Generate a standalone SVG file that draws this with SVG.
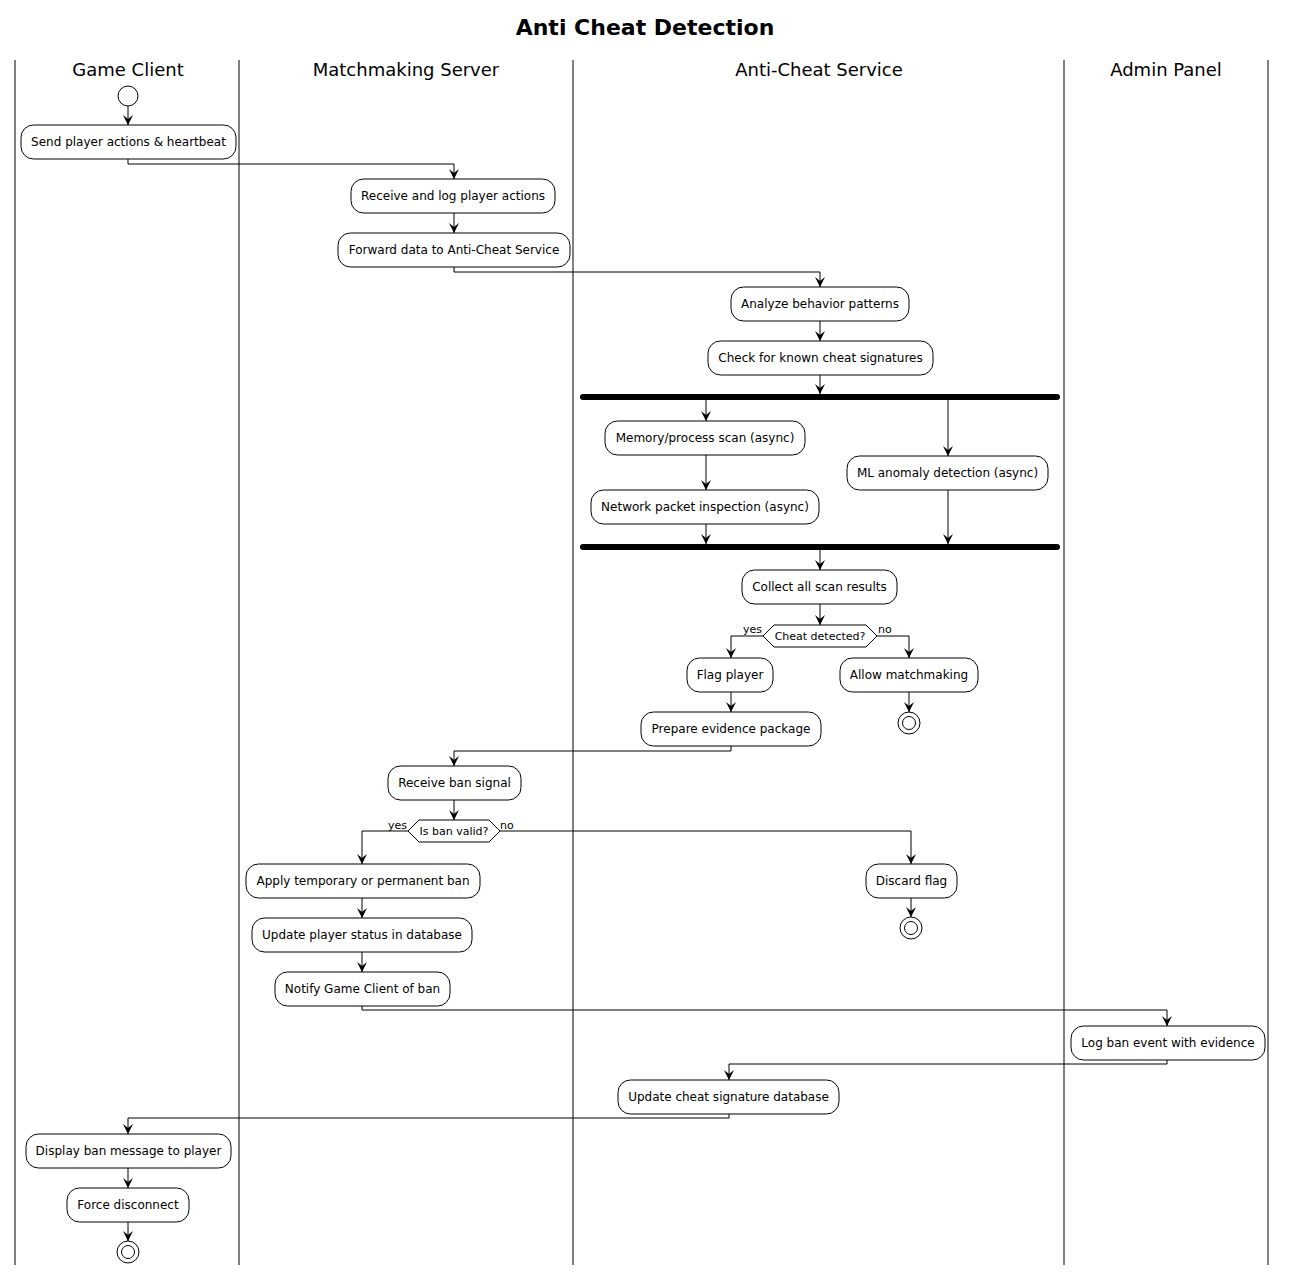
<svg xmlns="http://www.w3.org/2000/svg" width="1291" height="1278" viewBox="0 0 1291 1278">
<style>
.bg{fill:#ffffff}
.lane{stroke:#000;stroke-width:1;fill:none}
.title{font-family:"DejaVu Sans",sans-serif;font-size:22px;font-weight:bold;fill:#000}
.lt{font-family:"DejaVu Sans",sans-serif;font-size:18px;fill:#000}
.box{fill:#fff;stroke:#000;stroke-width:1}
.t{font-family:"DejaVu Sans",sans-serif;font-size:12px;fill:#000}
.dt{font-family:"DejaVu Sans",sans-serif;font-size:11px;fill:#000}
.lbl{font-family:"DejaVu Sans",sans-serif;font-size:11px;fill:#000}
.c{fill:none;stroke:#000;stroke-width:1}
.bar{fill:#000}
.st{fill:#fff;stroke:#000;stroke-width:1}
</style>
<defs>
<marker id="ah" viewBox="0 0 10 10" refX="10" refY="5" markerWidth="10" markerHeight="10" markerUnits="userSpaceOnUse" orient="auto">
<path d="M0,0 L10,5 L0,10 L4,5 Z" fill="#000"/>
</marker>
</defs>
<rect class="bg" x="0" y="0" width="1291" height="1278"/>
<text class="title" x="645" y="35" text-anchor="middle">Anti Cheat Detection</text>
<g id="lanes">
<line class="lane" x1="15" y1="60" x2="15" y2="1265"/>
<line class="lane" x1="239" y1="60" x2="239" y2="1265"/>
<line class="lane" x1="573" y1="60" x2="573" y2="1265"/>
<line class="lane" x1="1064" y1="60" x2="1064" y2="1265"/>
<line class="lane" x1="1268" y1="60" x2="1268" y2="1265"/>
<text class="lt" x="128" y="76" text-anchor="middle">Game Client</text>
<text class="lt" x="406" y="76" text-anchor="middle">Matchmaking Server</text>
<text class="lt" x="819" y="76" text-anchor="middle">Anti-Cheat Service</text>
<text class="lt" x="1166" y="76" text-anchor="middle">Admin Panel</text>
</g>
<g id="connectors">
<path class="c" d="M128,106 L128,125" marker-end="url(#ah)"/>
<path class="c" d="M128,159 L128,164 L454,164 L454,179" marker-end="url(#ah)"/>
<path class="c" d="M454,213 L454,233" marker-end="url(#ah)"/>
<path class="c" d="M454,267 L454,272 L820,272 L820,287" marker-end="url(#ah)"/>
<path class="c" d="M820,321 L820,341" marker-end="url(#ah)"/>
<path class="c" d="M820,375 L820,394" marker-end="url(#ah)"/>
<path class="c" d="M706,400 L706,421" marker-end="url(#ah)"/>
<path class="c" d="M948,400 L948,456" marker-end="url(#ah)"/>
<path class="c" d="M706,455 L706,490" marker-end="url(#ah)"/>
<path class="c" d="M706,524 L706,544" marker-end="url(#ah)"/>
<path class="c" d="M948,490 L948,544" marker-end="url(#ah)"/>
<path class="c" d="M820,550 L820,570" marker-end="url(#ah)"/>
<path class="c" d="M820,604 L820,625" marker-end="url(#ah)"/>
<path class="c" d="M763,636 L731,636 L731,658" marker-end="url(#ah)"/>
<path class="c" d="M877,636 L909,636 L909,658" marker-end="url(#ah)"/>
<path class="c" d="M909,692 L909,712" marker-end="url(#ah)"/>
<path class="c" d="M731,692 L731,712" marker-end="url(#ah)"/>
<path class="c" d="M731,746 L731,751 L454,751 L454,766" marker-end="url(#ah)"/>
<path class="c" d="M454,800 L454,820" marker-end="url(#ah)"/>
<path class="c" d="M408,831 L362,831 L362,864" marker-end="url(#ah)"/>
<path class="c" d="M500,831 L911,831 L911,864" marker-end="url(#ah)"/>
<path class="c" d="M911,898 L911,917" marker-end="url(#ah)"/>
<path class="c" d="M362,898 L362,918" marker-end="url(#ah)"/>
<path class="c" d="M362,952 L362,972" marker-end="url(#ah)"/>
<path class="c" d="M362,1006 L362,1010 L1167,1010 L1167,1026" marker-end="url(#ah)"/>
<path class="c" d="M1167,1060 L1167,1064 L729,1064 L729,1080" marker-end="url(#ah)"/>
<path class="c" d="M729,1114 L729,1118 L128,1118 L128,1134" marker-end="url(#ah)"/>
<path class="c" d="M128,1168 L128,1188" marker-end="url(#ah)"/>
<path class="c" d="M128,1222 L128,1241" marker-end="url(#ah)"/>
<text class="lbl" x="743" y="633">yes</text>
<text class="lbl" x="878" y="633">no</text>
<text class="lbl" x="388" y="829">yes</text>
<text class="lbl" x="500" y="829">no</text>
</g>
<g id="start"><circle class="st" cx="128" cy="96" r="10"/></g>
<g id="n1"><rect class="box" x="21" y="125" width="215" height="34" rx="12.5"/><text class="t" x="128.5" y="146" text-anchor="middle">Send player actions &amp; heartbeat</text></g>
<g id="n2"><rect class="box" x="351" y="179" width="204" height="34" rx="12.5"/><text class="t" x="453" y="200" text-anchor="middle">Receive and log player actions</text></g>
<g id="n3"><rect class="box" x="338" y="233" width="232" height="34" rx="12.5"/><text class="t" x="454" y="254" text-anchor="middle">Forward data to Anti-Cheat Service</text></g>
<g id="n4"><rect class="box" x="731" y="287" width="178" height="34" rx="12.5"/><text class="t" x="820" y="308" text-anchor="middle">Analyze behavior patterns</text></g>
<g id="n5"><rect class="box" x="708" y="341" width="225" height="34" rx="12.5"/><text class="t" x="820.5" y="362" text-anchor="middle">Check for known cheat signatures</text></g>
<g id="fork"><rect class="bar" x="580" y="394" width="480" height="6" rx="3"/></g>
<g id="n6"><rect class="box" x="605" y="421" width="200" height="34" rx="12.5"/><text class="t" x="705" y="442" text-anchor="middle">Memory/process scan (async)</text></g>
<g id="n7"><rect class="box" x="847" y="456" width="201" height="34" rx="12.5"/><text class="t" x="947.5" y="477" text-anchor="middle">ML anomaly detection (async)</text></g>
<g id="n8"><rect class="box" x="591" y="490" width="228" height="34" rx="12.5"/><text class="t" x="705" y="511" text-anchor="middle">Network packet inspection (async)</text></g>
<g id="join"><rect class="bar" x="580" y="544" width="480" height="6" rx="3"/></g>
<g id="n9"><rect class="box" x="742" y="570" width="155" height="34" rx="12.5"/><text class="t" x="819.5" y="591" text-anchor="middle">Collect all scan results</text></g>
<g id="d1"><polygon class="box" points="763,636 774,625 866,625 877,636 866,647 774,647"/><text class="dt" x="820" y="640" text-anchor="middle">Cheat detected?</text></g>
<g id="n10"><rect class="box" x="687" y="658" width="86" height="34" rx="12.5"/><text class="t" x="730" y="679" text-anchor="middle">Flag player</text></g>
<g id="n11"><rect class="box" x="840" y="658" width="138" height="34" rx="12.5"/><text class="t" x="909" y="679" text-anchor="middle">Allow matchmaking</text></g>
<g id="end1"><circle class="st" cx="909" cy="723" r="11"/><circle class="st" cx="909" cy="723" r="6.5"/></g>
<g id="n12"><rect class="box" x="641" y="712" width="180" height="34" rx="12.5"/><text class="t" x="731" y="733" text-anchor="middle">Prepare evidence package</text></g>
<g id="n13"><rect class="box" x="388" y="766" width="133" height="34" rx="12.5"/><text class="t" x="454.5" y="787" text-anchor="middle">Receive ban signal</text></g>
<g id="d2"><polygon class="box" points="408,831 419,820 489,820 500,831 489,842 419,842"/><text class="dt" x="454" y="835" text-anchor="middle">Is ban valid?</text></g>
<g id="n14"><rect class="box" x="246" y="864" width="234" height="34" rx="12.5"/><text class="t" x="363" y="885" text-anchor="middle">Apply temporary or permanent ban</text></g>
<g id="n15"><rect class="box" x="866" y="864" width="91" height="34" rx="12.5"/><text class="t" x="911.5" y="885" text-anchor="middle">Discard flag</text></g>
<g id="end2"><circle class="st" cx="911" cy="928" r="11"/><circle class="st" cx="911" cy="928" r="6.5"/></g>
<g id="n16"><rect class="box" x="252" y="918" width="220" height="34" rx="12.5"/><text class="t" x="362" y="939" text-anchor="middle">Update player status in database</text></g>
<g id="n17"><rect class="box" x="275" y="972" width="175" height="34" rx="12.5"/><text class="t" x="362.5" y="993" text-anchor="middle">Notify Game Client of ban</text></g>
<g id="n18"><rect class="box" x="1071" y="1026" width="194" height="34" rx="12.5"/><text class="t" x="1168" y="1047" text-anchor="middle">Log ban event with evidence</text></g>
<g id="n19"><rect class="box" x="618" y="1080" width="221" height="34" rx="12.5"/><text class="t" x="728.5" y="1101" text-anchor="middle">Update cheat signature database</text></g>
<g id="n20"><rect class="box" x="26" y="1134" width="205" height="34" rx="12.5"/><text class="t" x="128.5" y="1155" text-anchor="middle">Display ban message to player</text></g>
<g id="n21"><rect class="box" x="67" y="1188" width="122" height="34" rx="12.5"/><text class="t" x="128" y="1209" text-anchor="middle">Force disconnect</text></g>
<g id="end3"><circle class="st" cx="128" cy="1252" r="11"/><circle class="st" cx="128" cy="1252" r="6.5"/></g>
</svg>
